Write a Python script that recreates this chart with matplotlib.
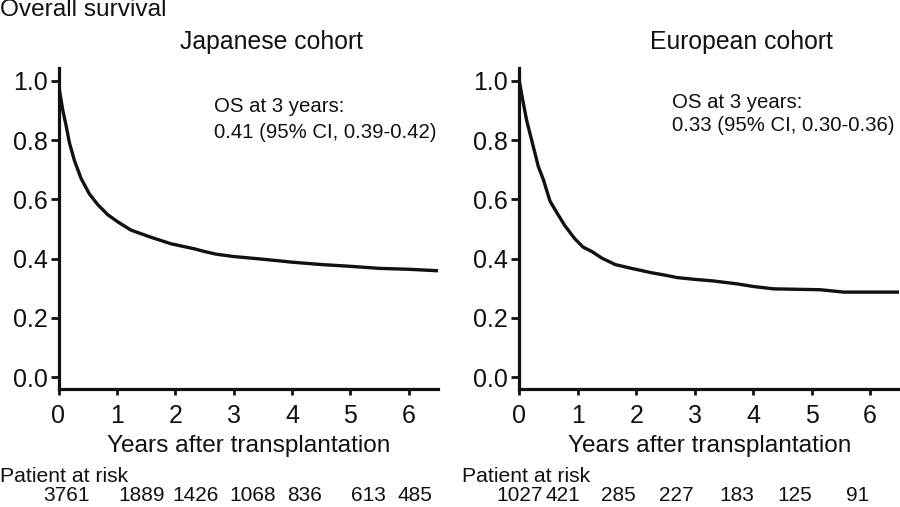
import matplotlib
matplotlib.use("Agg")
import matplotlib.pyplot as plt

plt.rcParams['font.family'] = ['Liberation Sans', 'DejaVu Sans']

# Kaplan-Meier curves
jp_years = [0.0, 0.017, 0.074, 0.131, 0.188, 0.274, 0.388, 0.53, 0.673, 0.844, 1.015, 1.243,
            1.585, 1.928, 2.327, 2.5, 2.7, 3.0, 3.5, 4.0, 4.5, 5.0, 5.5, 6.0, 6.5]
jp_surv = [1.0, 0.967, 0.90, 0.848, 0.79, 0.73, 0.67, 0.618, 0.582, 0.548, 0.524, 0.496,
           0.472, 0.45, 0.433, 0.424, 0.415, 0.407, 0.398, 0.388, 0.380, 0.374, 0.367, 0.364, 0.359]

eu_years = [0.0, 0.05, 0.125, 0.211, 0.325, 0.411, 0.525, 0.639, 0.78, 0.95, 1.09, 1.24, 1.41,
            1.64, 1.92, 2.27, 2.5, 2.7, 3.0, 3.3, 3.72, 4.0, 4.35, 5.15, 5.55, 6.5]
eu_surv = [1.0, 0.944, 0.867, 0.80, 0.711, 0.667, 0.594, 0.556, 0.511, 0.467, 0.439, 0.424, 0.402,
           0.38, 0.367, 0.352, 0.344, 0.336, 0.33, 0.325, 0.315, 0.306, 0.298, 0.295, 0.287, 0.287]

jp_at_risk = [3761, 1889, 1426, 1068, 836, 613, 485]
eu_at_risk = [1027, 421, 285, 227, 183, 125, 91]

jp_os = ["OS at 3 years:", "0.41 (95% CI, 0.39-0.42)"]
eu_os = ["OS at 3 years:", "0.33 (95% CI, 0.30-0.36)"]

# where the at-risk numbers sit (in years), they are not exactly under the ticks
jp_risk_x = [0.14, 1.42, 2.34, 3.33, 4.22, 5.30, 6.11]
eu_risk_x = [0.0, 0.75, 1.70, 2.69, 3.72, 4.72, 5.78]

fig = plt.figure(figsize=(9, 5.07), dpi=100)
ax1 = fig.add_axes([0.065, 0.2327, 0.4217, 0.6331])
ax2 = fig.add_axes([0.577, 0.2327, 0.4222, 0.6331])

panels = [
    (ax1, jp_years, jp_surv, "Japanese cohort", 3.64, jp_os, 2.67, (0.893, 0.806), jp_at_risk, jp_risk_x, -0.154),
    (ax2, eu_years, eu_surv, "European cohort", 3.80, eu_os, 2.61, (0.909, 0.830), eu_at_risk, eu_risk_x, -0.151),
]

for ax, xs, ys, title, title_x, os_text, os_x, os_y, risk, risk_x, risk_lbl_x in panels:
    ax.plot(xs, ys, color='#111111', linewidth=2.4, solid_joinstyle='round')
    ax.set_xlim(0, 6.5)
    ax.set_ylim(-0.04, 1.043)
    ax.set_xticks(range(7))
    ax.set_yticks([0.0, 0.2, 0.4, 0.6, 0.8, 1.0])
    ax.set_yticklabels(["0.0", "0.2", "0.4", "0.6", "0.8", "1.0"])
    for s in ['top', 'right']:
        ax.spines[s].set_visible(False)
    for s in ['left', 'bottom']:
        ax.spines[s].set_linewidth(2.3)
        ax.spines[s].set_color('#111111')
    ax.tick_params(axis='y', direction='out', length=5.5, width=2, pad=2.5, labelsize=18, colors='#111111')
    ax.tick_params(axis='x', direction='out', length=4.5, width=2, pad=6, labelsize=18, colors='#111111')

    ax.text(title_x, 1.131, title, fontsize=17.8, ha='center', va='center', color='#111111', clip_on=False)
    ax.text(os_x, os_y[0], os_text[0], fontsize=14.7, ha='left', va='baseline', color='#111111')
    ax.text(os_x, os_y[1], os_text[1], fontsize=14.7, ha='left', va='baseline', color='#111111')

    ax.text(0.5, -0.1776, "Years after transplantation", transform=ax.transAxes,
            fontsize=17.6, ha='center', va='center', color='#111111')
    ax.text(risk_lbl_x, -0.274, "Patient at risk", transform=ax.transAxes,
            fontsize=15.2, ha='left', va='center', color='#111111')
    for n, x in zip(risk, risk_x):
        ax.text(x, -0.333, str(n), transform=ax.get_xaxis_transform(),
                fontsize=15, ha='center', va='center', color='#111111', clip_on=False)

fig.text(0.0, 1 - 10 / 507, "Overall survival", fontsize=17.6, ha='left', va='center', color='#111111')

fig.savefig("out.png", dpi=100)
